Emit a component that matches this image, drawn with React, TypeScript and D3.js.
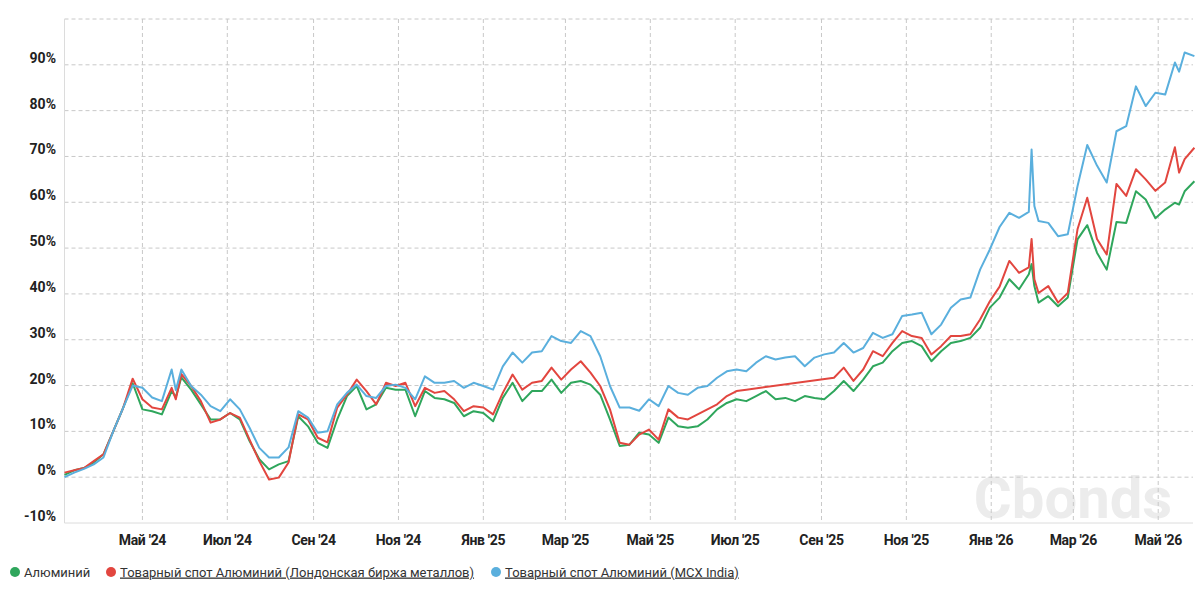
import { useMemo } from 'react';
import * as d3 from 'd3';

// weekly observations, first one on startDate, one week apart
const startDate = '2024-03-06';
const endDate = '2026-05-26';

const greenWeekly = [
  0.5, 1.5, 2.0, 3.2, 5.0, 10.0, 15.0, 20.5, 14.8, 14.4,
  13.7, 18.8, 21.8, 19.1, 15.9, 12.6, 12.6, 14.0, 12.6, 7.9,
  3.9, 1.7, 2.8, 3.5, 13.3, 11.1, 7.5, 6.4, 12.6, 17.7,
  19.9, 14.8, 15.9, 19.5, 19.1, 19.1, 13.3, 18.8, 17.3, 17.0,
  16.2, 13.3, 14.4, 14.0, 12.2, 17.3, 20.6, 16.6, 18.8, 18.8,
  21.3, 18.4, 20.6, 21.0, 20.2, 18.0, 12.6, 6.8, 7.1, 9.7,
  9.3, 7.5, 13.0, 11.1, 10.8, 11.1, 12.6, 14.8, 16.2, 17.0,
  16.6, 17.7, 18.8, 17.0, 17.3, 16.6, 17.7, 17.3, 17.0, 18.8,
  21.0, 18.8, 21.3, 24.2, 25.0, 27.5, 29.3, 29.7, 28.6, 25.3,
  27.5, 29.3, 29.7, 30.4, 32.6, 37.0, 39.2, 43.2, 41.0, 44.3,
  38.1, 39.5, 37.3, 39.2, 51.9, 55.0, 49.0, 45.3, 55.7, 55.5,
  62.4, 60.6, 56.5, 58.4, 59.9, 62.4, 64.6,
];

// NaN = no quote that week (the line is drawn straight across)
const redWeekly = [
  1.0, 1.5, 2.0, 3.5, 5.0, 10.0, 15.0, 21.5, 17.0, 15.2,
  14.8, 19.5, 22.5, 19.9, 16.6, 11.9, 12.6, 14.0, 13.0, 8.2,
  3.5, -0.5, -0.1, 3.2, 13.7, 12.6, 8.6, 7.6, 15.2, 18.0,
  21.3, 18.8, 15.9, 20.6, 19.9, 20.6, 15.5, 19.5, 18.4, 18.8,
  17.0, 14.4, 15.5, 15.2, 13.7, 18.4, 22.4, 19.1, 20.6, 21.0,
  23.9, 21.3, 23.5, 25.3, 22.8, 19.9, 14.8, 7.5, 7.1, 9.3,
  10.4, 8.2, 14.8, 13.0, 12.6, 13.7, 14.8, 15.9, 17.7, 18.8,
  19.1, NaN, NaN, NaN, NaN, NaN, NaN, NaN, NaN, 21.7,
  23.9, 21.0, 23.5, 27.5, 26.4, 29.3, 31.9, 30.8, 30.4, 26.8,
  28.6, 30.8, 30.8, 31.2, 34.4, 38.4, 41.6, 47.2, 44.6, 45.8,
  40.2, 41.7, 38.1, 40.2, 54.1, 61.0, 52.0, 48.6, 64.0, 61.4,
  67.2, 65.0, 62.5, 64.3, 72.0, 69.4, 71.9,
];

const blueWeekly = [
  0.0, 1.0, 1.8, 2.8, 4.3, 10.0, 15.0, 20.0, 19.5, 17.4,
  16.6, 23.5, 23.5, 19.9, 18.0, 15.5, 14.4, 17.0, 14.8, 10.8,
  6.4, 4.3, 4.3, 6.5, 14.4, 13.0, 9.7, 10.0, 15.9, 18.4,
  20.2, 17.7, 17.3, 19.9, 20.2, 19.5, 17.0, 22.0, 20.6, 20.6,
  21.0, 19.5, 20.6, 19.9, 19.1, 24.2, 27.2, 25.0, 27.2, 27.5,
  30.8, 29.7, 29.3, 31.9, 30.8, 26.4, 19.9, 15.2, 15.2, 14.5,
  17.0, 15.5, 19.9, 18.4, 18.0, 19.5, 19.9, 21.7, 23.1, 23.5,
  23.1, 25.0, 26.4, 25.7, 26.1, 26.4, 24.2, 26.1, 26.8, 27.2,
  29.3, 27.2, 28.2, 31.5, 30.4, 31.2, 35.2, 35.5, 35.9, 31.2,
  33.3, 37.0, 38.8, 39.2, 45.3, 49.7, 54.6, 57.7, 56.6, 57.9,
  55.9, 55.5, 52.6, 53.0, 63.5, 72.5, 68.0, 64.3, 75.5, 76.6,
  85.3, 81.0, 83.9, 83.5, 90.5, 92.7, 91.9,
];

// single-day moves that fall between the weekly points
const extraDates = ['2024-05-25', '2026-01-30', '2026-02-01', '2026-05-16'];
const extraGreen = [17.5, 46.5, 41.7, 59.5];
const extraRed = [17.0, 52.0, 43.2, 66.5];
const extraBlue = [19.0, 71.5, 59.2, 88.5];

const yTicks = [-10, 0, 10, 20, 30, 40, 50, 60, 70, 80, 90];
const yMax = 100;
const monthTicks = [
  '2024-05-01', '2024-07-01', '2024-09-01', '2024-11-01', '2025-01-01', '2025-03-01',
  '2025-05-01', '2025-07-01', '2025-09-01', '2025-11-01', '2026-01-01', '2026-03-01', '2026-05-01',
];
const monthLabels = [
  "Май '24", "Июл '24", "Сен '24", "Ноя '24", "Янв '25", "Мар '25",
  "Май '25", "Июл '25", "Сен '25", "Ноя '25", "Янв '26", "Мар '26", "Май '26",
];

const seriesNames = [
  'Алюминий',
  'Товарный спот Алюминий (Лондонская биржа металлов)',
  'Товарный спот Алюминий (MCX India)',
];
const seriesColors = ['#2fa65c', '#e2463f', '#5aafdd'];
const legendX = [15, 111, 496];

const parse = d3.timeParse('%Y-%m-%d');
const W = 1203;
const H = 601;
const margin = { left: 64.5, right: 1193, top: 19, bottom: 523 };

const FONT = 'Roboto, "Liberation Sans", Arial, sans-serif';

export default function App() {
  const x = d3.scaleTime()
    .domain([parse(startDate)!, parse(endDate)!])
    .range([margin.left, margin.right]);
  const y = d3.scaleLinear().domain([-10, yMax]).range([margin.bottom, margin.top]);

  const paths = useMemo(() => {
    const start = parse(startDate)!;
    const weekly = [greenWeekly, redWeekly, blueWeekly];
    const extra = [extraGreen, extraRed, extraBlue];
    const line = d3.line<{ d: Date; v: number }>()
      .x(p => x(p.d))
      .y(p => y(p.v));
    return weekly.map((vals, s) => {
      const pts = vals.map((v, i) => ({ d: d3.timeDay.offset(start, 7 * i), v }));
      extraDates.forEach((ds, k) => pts.push({ d: parse(ds)!, v: extra[s][k] }));
      pts.sort((a, b) => +a.d - +b.d);
      return line(pts.filter(p => !isNaN(p.v))) || '';
    });
  }, []);

  return (
    <svg width={W} height={H} style={{ position: 'absolute', left: 0, top: 0, background: '#fff' }}>
      {/* watermark */}
      <text x={1073} y={518} textAnchor="middle" fontFamily={FONT} fontWeight={700}
        fontSize={58} fill="#ececec">Cbonds</text>

      {/* horizontal grid */}
      {[...yTicks.slice(1), yMax].map(t => (
        <line key={t} x1={margin.left} x2={margin.right} y1={y(t)} y2={y(t)}
          stroke="#c8c8c8" strokeDasharray="4,3" strokeWidth={1} />
      ))}
      {/* vertical grid */}
      {monthTicks.map(m => (
        <line key={m} x1={x(parse(m)!)} x2={x(parse(m)!)} y1={margin.top} y2={margin.bottom}
          stroke="#c8c8c8" strokeDasharray="4,3" strokeWidth={1} />
      ))}
      <line x1={margin.left} x2={margin.right} y1={margin.bottom} y2={margin.bottom} stroke="#dcdcdc" />
      <line x1={margin.left} x2={margin.left} y1={margin.top} y2={margin.bottom} stroke="#dcdcdc" />

      {/* y labels */}
      {yTicks.map(t => (
        <text key={t} x={56} y={y(t) - 2} textAnchor="end" fontFamily={FONT} fontWeight={700}
          fontSize={14} fill="#222">{`${t}%`}</text>
      ))}
      {/* x labels */}
      {monthTicks.map((m, i) => (
        <text key={m} x={x(parse(m)!)} y={545} textAnchor="middle" fontFamily={FONT} fontWeight={700}
          fontSize={14} fill="#222" letterSpacing={-0.3}>{monthLabels[i]}</text>
      ))}

      {/* series */}
      {paths.map((d, i) => (
        <path key={i} d={d} fill="none" stroke={seriesColors[i]} strokeWidth={2} strokeLinejoin="round" />
      ))}

      {/* legend */}
      {seriesNames.map((n, i) => (
        <g key={n}>
          <circle cx={legendX[i]} cy={572} r={5} fill={seriesColors[i]} />
          <text x={legendX[i] + 9} y={576.5} fontFamily={FONT} fontSize={13} fill="#333"
            textDecoration={i > 0 ? 'underline' : undefined}>{n}</text>
        </g>
      ))}
    </svg>
  );
}
